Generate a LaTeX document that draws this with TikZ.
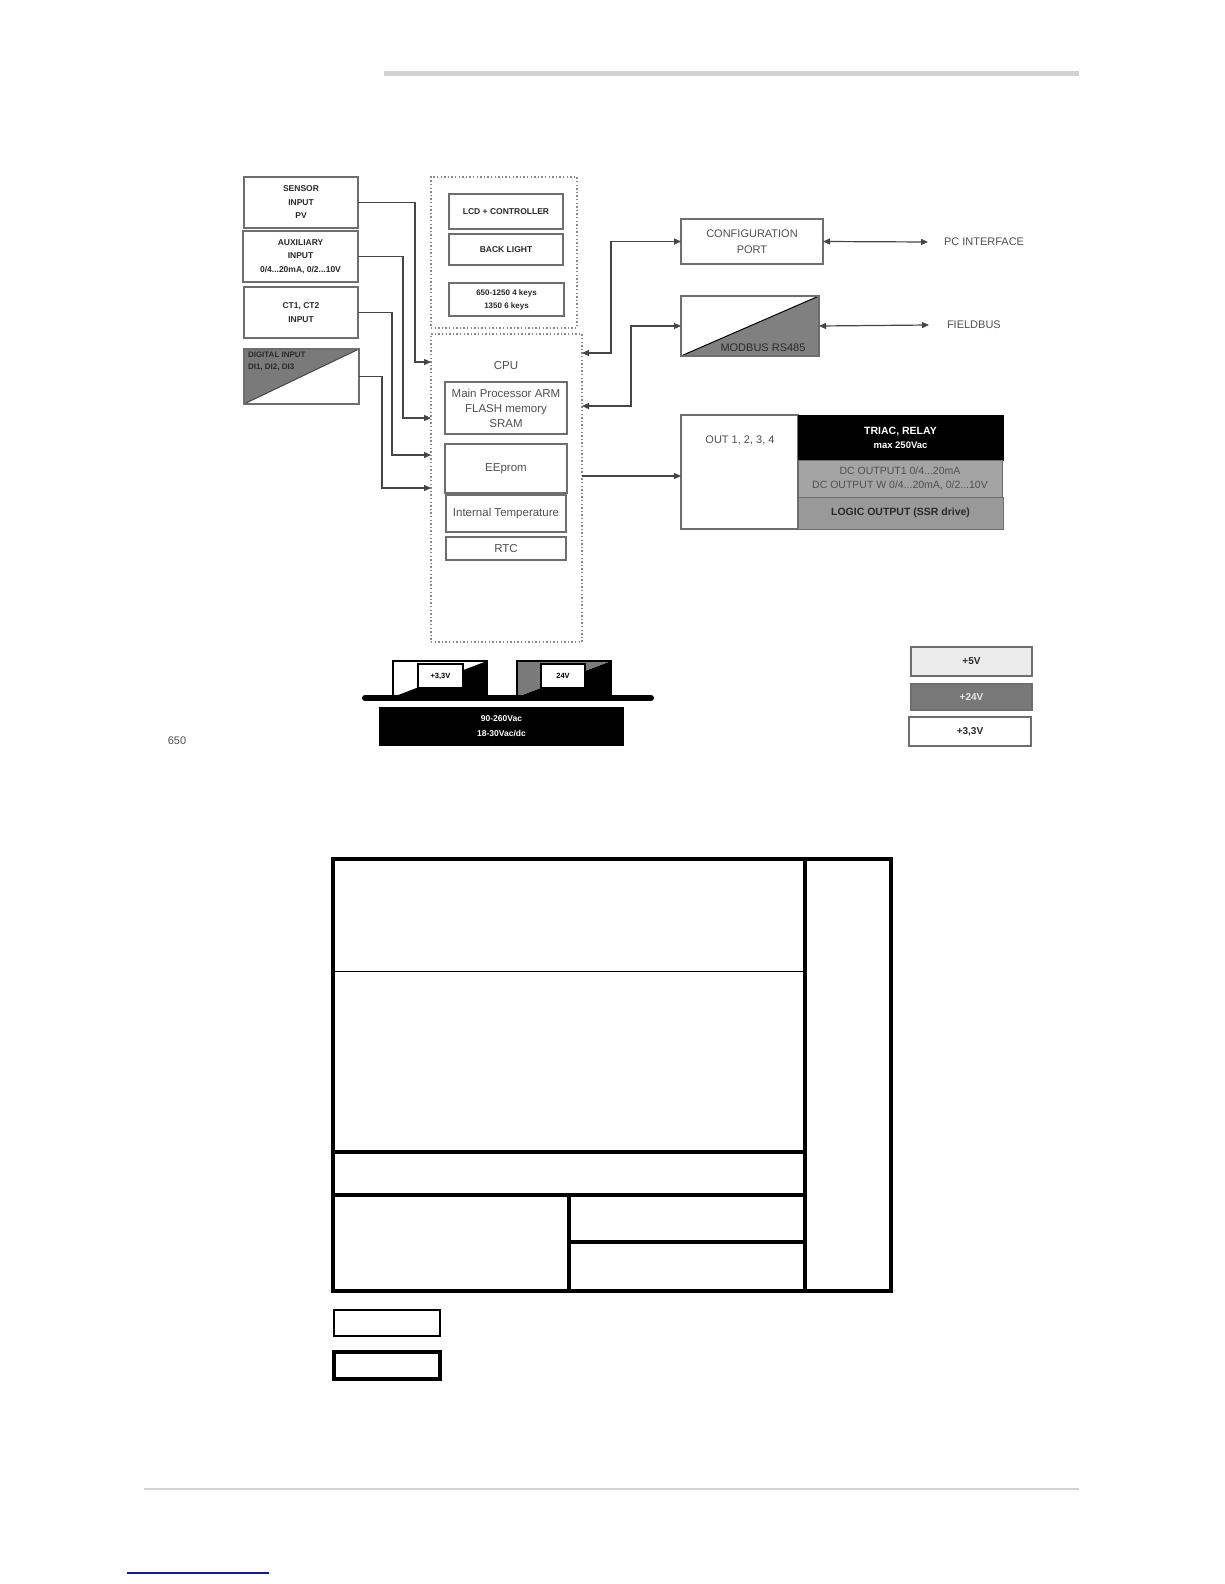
\documentclass[tikz,border=0pt]{standalone}
\usepackage{fontspec}
\setmainfont{Liberation Sans}
\usetikzlibrary{arrows.meta,calc}
\newcommand{\myfs}[2]{\fontsize{#1}{#2}\selectfont}
\definecolor{topgray}{HTML}{D2D2D2}
\definecolor{boxline}{HTML}{6E6E6E}
\definecolor{txt}{HTML}{2A2A2A}
\definecolor{rtxt}{HTML}{505050}
\definecolor{dotc}{HTML}{8A8A8A}
\definecolor{lncol}{HTML}{454545}
\definecolor{digfill}{HTML}{7A7A7A}
\definecolor{modfill}{HTML}{808080}
\definecolor{dcfill}{HTML}{A4A4A4}
\definecolor{logfill}{HTML}{999999}
\definecolor{l5fill}{HTML}{ECECEC}
\definecolor{l24fill}{HTML}{787878}
\definecolor{l24txt}{HTML}{E6E6E6}
\definecolor{navyline}{HTML}{1C1C80}
\tikzset{
  box/.style={draw=boxline, line width=1.3pt, fill=white, align=center, text=txt},
  bsmall/.style={font=\bfseries\myfs{8.5}{13.5}},
  reg/.style={font=\myfs{11.5}{15}, text=rtxt},
  dotbox/.style={draw=dotc, line width=1.3pt, dash pattern=on 1.4pt off 2.2pt},
  conn/.style={draw=lncol, line width=1.2pt},
  onetip/.style={-{Triangle[length=7pt,width=6pt]}},
  twotips/.style={{Triangle[length=7pt,width=6pt]}-{Triangle[length=7pt,width=6pt]}},
  psbox/.style={draw=black, line width=1.3pt, fill=white, inner sep=0pt},
  tline/.style={draw=black, line width=4.2pt},
}
\begin{document}
\begin{tikzpicture}[x=1pt,y=-1pt, every node/.style={inner sep=0pt, outer sep=0pt}]
\useasboundingbox[fill=white] (0,0) rectangle (1224,1584);

% page rules
\draw[topgray, line width=5pt] (384,74) -- (1079,74);
\draw[topgray, line width=2pt] (144,1489) -- (1079,1489);
\draw[navyline, line width=2pt] (127,1573) -- (269,1573);

% ---- input boxes ----
\node[box, bsmall, minimum width=114, minimum height=51] (sens) at (301,202.5) {SENSOR\\INPUT\\PV};
\node[box, bsmall, minimum width=115, minimum height=51] (aux) at (300.5,256.5) {AUXILIARY\\INPUT\\0/4...20mA, 0/2...10V};
\node[box, bsmall, minimum width=114, minimum height=51] (ct) at (301,312.5) {CT1, CT2\\INPUT};
\node[box, minimum width=115, minimum height=55,
  path picture={\fill[digfill] (path picture bounding box.north west) -- (path picture bounding box.north east) -- (path picture bounding box.south west) -- cycle;
  \draw[lncol, line width=1pt] (path picture bounding box.south west) -- (path picture bounding box.north east);}] (dig) at (301.5,376.5) {};
\node[anchor=north west, align=left, font=\bfseries\myfs{8}{12}, text=txt] (digtxt) at (248,351.5) {DIGITAL INPUT\\DI1, DI2, DI3};

% ---- display group ----
\node[dotbox, minimum width=146, minimum height=151] (lcdgrp) at (504,252.5) {};
\node[box, bsmall, minimum width=114, minimum height=35] (lcd) at (506,211.5) {LCD + CONTROLLER};
\node[box, bsmall, minimum width=114, minimum height=31] (bl) at (506,249.5) {BACK LIGHT};
\node[box, font=\bfseries\myfs{8}{13}, minimum width=115, minimum height=33] (keys) at (506.5,299.5) {650-1250 4 keys\\1350 6 keys};

% ---- CPU group ----
\node[dotbox, minimum width=151, minimum height=308] (cpu) at (506.5,488) {};
\node[reg] (cputxt) at (506,366) {CPU};
\node[box, reg, minimum width=122, minimum height=52] (mp) at (506,408) {Main Processor ARM\\FLASH memory\\SRAM};
\node[box, reg, minimum width=122, minimum height=49] (ee) at (506,468.5) {EEprom};
\node[box, reg, minimum width=120, minimum height=37] (it) at (506,513.5) {Internal Temperature};
\node[box, reg, minimum width=120, minimum height=23] (rtc) at (506,548.5) {RTC};

% helper y-levels on CPU edges
\coordinate (yA) at (0,362);
\coordinate (yB) at (0,418);
\coordinate (yC) at (0,455);
\coordinate (yD) at (0,488);
\coordinate (yE) at (0,353);
\coordinate (yF) at (0,406);
\coordinate (yG) at (0,476);

% input connectors
\draw[conn, onetip] (sens.east) -- ++(57,0) |- (cpu.west |- yA);
\draw[conn, onetip] (aux.east) -- ++(45,0) |- (cpu.west |- yB);
\draw[conn, onetip] (ct.east) -- ++(34,0) |- (cpu.west |- yC);
\draw[conn, onetip] (dig.east) -- ++(23,0) |- (cpu.west |- yD);

% ---- right side ----
\node[box, reg, text=rtxt, font=\myfs{11}{16.5}, minimum width=142, minimum height=45] (cfg) at (752,241.5) {CONFIGURATION\\PORT};
\node[box, minimum width=138, minimum height=60,
  path picture={\fill[modfill] (path picture bounding box.south west) -- (path picture bounding box.north east) -- (path picture bounding box.south east) -- cycle;
  \draw[black, line width=1pt] (path picture bounding box.south west) -- (path picture bounding box.north east);}] (mod) at (750,326) {};
\node[font=\myfs{11}{13}, text=txt] (modtxt) at (763,348) {MODBUS RS485};

\node[anchor=west, font=\myfs{11}{13}, text=rtxt] (pcl) at (944,242) {PC INTERFACE};
\node[anchor=west, font=\myfs{11}{13}, text=rtxt] (fbl) at (947,325) {FIELDBUS};

\draw[conn, twotips] (cfg.west) -- ++(-70,0) |- (cpu.east |- yE);
\draw[conn, twotips] (mod.west) -- ++(-50,0) |- (cpu.east |- yF);
\draw[conn, twotips] (cfg.east) -- ([xshift=-16pt]pcl.west);
\draw[conn, twotips] (mod.east) -- ([xshift=-18pt]fbl.west);

% outputs
\node[box, minimum width=117, minimum height=114] (out) at (739.5,472) {};
\node[font=\myfs{11}{13}, text=rtxt] (outtxt) at (740,440) {OUT 1, 2, 3, 4};
\node[draw=black, fill=black, line width=1pt, minimum width=205, minimum height=45, align=center, text=white] (triac) at (900.5,437.5) {{\bfseries\myfs{10.5}{13}TRIAC, RELAY}\\[2pt]{\bfseries\myfs{9.5}{12}max 250Vac}};
\node[draw=boxline, fill=dcfill, line width=1pt, minimum width=204, minimum height=37, align=center, text=rtxt, font=\myfs{10.5}{14}] (dcout) at (900,478.5) {DC OUTPUT1 0/4...20mA\\DC OUTPUT W 0/4...20mA, 0/2...10V};
\node[draw=boxline, fill=logfill, line width=1pt, minimum width=205, minimum height=32, text=txt, font=\bfseries\myfs{10.5}{13}] (logic) at (900.5,513) {LOGIC OUTPUT (SSR drive)};
\draw[conn, onetip] (cpu.east |- yG) -- (out.west |- yG);

% ---- power supply ----
\node[psbox, minimum width=94, minimum height=36,
  path picture={\fill[black] (path picture bounding box.south west) -- (path picture bounding box.north east) -- (path picture bounding box.south east) -- cycle;}] (ps33) at (440,679) {};
\node[psbox, minimum width=94, minimum height=36,
  path picture={\fill[black] (path picture bounding box.south west) -- (path picture bounding box.north east) -- (path picture bounding box.south east) -- cycle;
  \fill[digfill] (path picture bounding box.south west) -- (path picture bounding box.north east) -- (path picture bounding box.north west) -- cycle;}] (ps24) at (564,679) {};
\node[psbox, minimum width=45, minimum height=24, font=\bfseries\myfs{7.5}{9}] (lab33) at (440.5,676) {+3,3V};
\node[psbox, minimum width=44, minimum height=24, font=\bfseries\myfs{7.5}{9}] (lab24) at (563,676) {24V};
\coordinate (barL) at (365,698);
\coordinate (barR) at (651,698);
\draw[black, line width=6pt, line cap=round] (barL) -- (barR);
\node[fill=black, minimum width=245, minimum height=39, align=center, text=white, font=\bfseries\myfs{8.5}{15}] (mains) at (501.5,726.5) {90-260Vac\\18-30Vac/dc};
\node[font=\myfs{11}{13}, text=rtxt] (n650) at (177,741) {650};

% legend
\node[draw=boxline, line width=1.3pt, fill=l5fill, minimum width=121, minimum height=29, text=txt, font=\bfseries\myfs{10}{12}] (l5) at (971.5,661.5) {+5V};
\node[draw=boxline, line width=1.3pt, fill=l24fill, minimum width=121, minimum height=26, text=l24txt, font=\bfseries\myfs{10}{12}] (l24) at (971.5,697) {+24V};
\node[draw=boxline, line width=1.3pt, fill=white, minimum width=122, minimum height=29, text=txt, font=\bfseries\myfs{10}{12}] (l33) at (970,731.5) {+3,3V};

% ---- bottom frame table ----
\draw[tline, line width=4.5pt] (333,859) rectangle (891,1291);
\draw[tline] (805,859) -- (805,1291);
\draw[black, line width=1.2pt] (333,971.5) -- (805,971.5);
\draw[tline] (333,1152) -- (805,1152);
\draw[tline] (333,1195) -- (805,1195);
\draw[tline] (569,1195) -- (569,1291);
\draw[tline] (569,1242) -- (805,1242);
\draw[black, line width=1.3pt] (334,1310) rectangle (440,1336);
\draw[black, line width=4.5pt] (334,1352) rectangle (440,1379);
\end{tikzpicture}
\end{document}
